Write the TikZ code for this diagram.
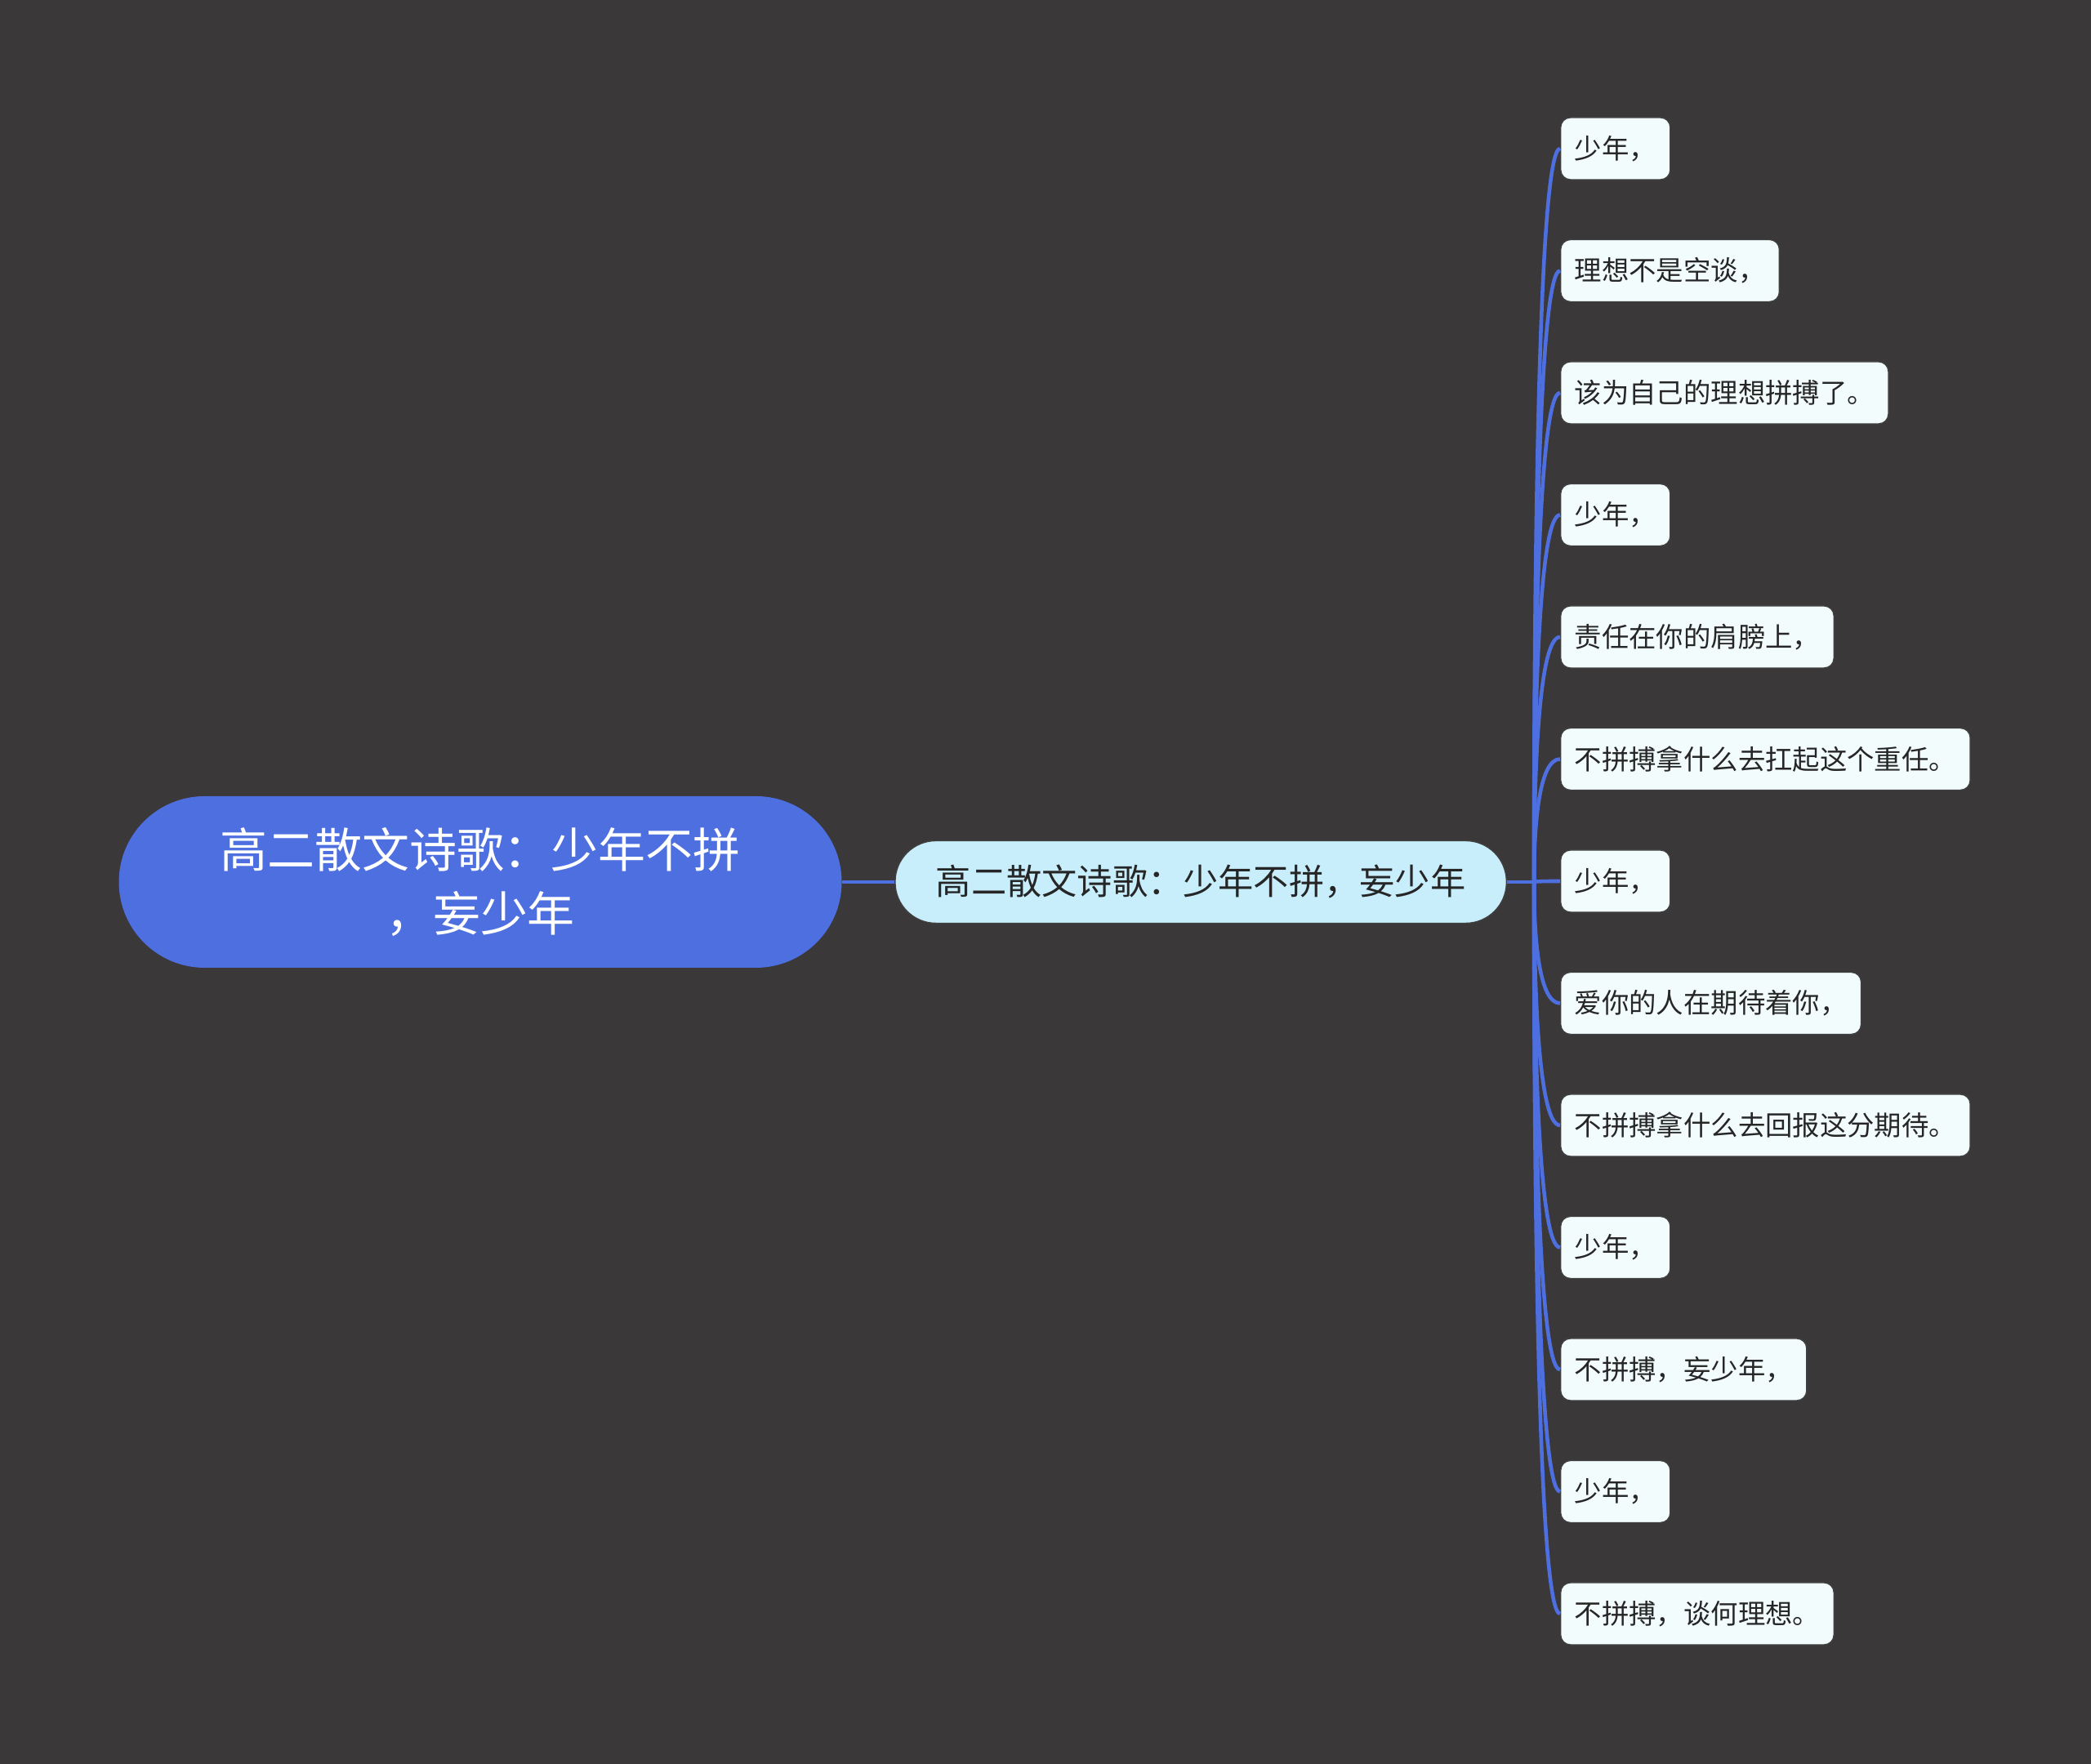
\documentclass[tikz,border=0pt]{standalone}
\usepackage{fontspec}
\setmainfont{Noto Sans CJK SC}
\usetikzlibrary{positioning,calc}
\definecolor{bgcol}{RGB}{58,56,57}
\definecolor{rootcol}{RGB}{78,111,224}
\definecolor{subcol}{RGB}{200,238,252}
\definecolor{leafcol}{RGB}{242,252,253}
\definecolor{txtcol}{RGB}{38,38,38}
\tikzset{
  rootbox/.style={fill=rootcol,text=white,rounded corners=1.05cm,minimum height=2.1cm,
    minimum width=8.85cm,align=center,font=\fontsize{16.5pt}{22.2pt}\selectfont},
  subbox/.style={fill=subcol,draw=black!75,line width=0.4pt,text=txtcol,rounded corners=0.5cm,
    minimum height=1.01cm,inner xsep=0.5cm,font=\fontsize{12.3pt}{15pt}\selectfont},
  leafbox/.style={fill=leafcol,draw=black!75,line width=0.4pt,text=txtcol,rounded corners=0.12cm,
    minimum height=0.76cm,inner xsep=0.17cm,anchor=west,font=\fontsize{9.5pt}{12pt}\selectfont},
  link/.style={draw=rootcol,line width=1.3pt}
}
\begin{document}
\begin{tikzpicture}[x=1cm,y=1cm]
  % 背景(画面全体)
  \fill[bgcol] (0,0) rectangle (25.6,21.6);
  \useasboundingbox (0,0) rectangle (25.6,21.6);
  % 中心主题与二级主题
  \node[rootbox] (root) at (5.88,10.80) {高二散文诗歌：少年不拼\\，妄少年};
  \node[subbox,right=0.64cm of root] (sub) {高二散文诗歌：少年不拼，妄少年};
  \draw[link] (root) -- (sub);
  \coordinate (fork) at ($(sub.east)+(0.33,0)$);
  \draw[link] (sub.east) -- (fork);
  % 分支(13句，从上到下等距排列)
  \foreach \i/\txt in {1/{少年，},2/{理想不是空谈，},3/{该为自己的理想拼搏了。},4/{少年，},
    5/{责任在你的肩膀上，},6/{不拼搏拿什么去扛起这个重任。},7/{少年，},8/{爱你的人在期待着你，},
    9/{不拼搏拿什么去回报这分期待。},10/{少年，},11/{不拼搏，妄少年，},12/{少年，},13/{不拼搏，谈何理想。}}{
    \node[leafbox] (l\i) at (19.10,{10.81+(7-\i)*1.495}) {\txt};
    \draw[link] (fork) .. controls ($(fork)!0.5!(fork |- l\i.west)$) and ($(l\i.west)+(-0.25,0)$) .. (l\i.west);
  }
\end{tikzpicture}
\end{document}
